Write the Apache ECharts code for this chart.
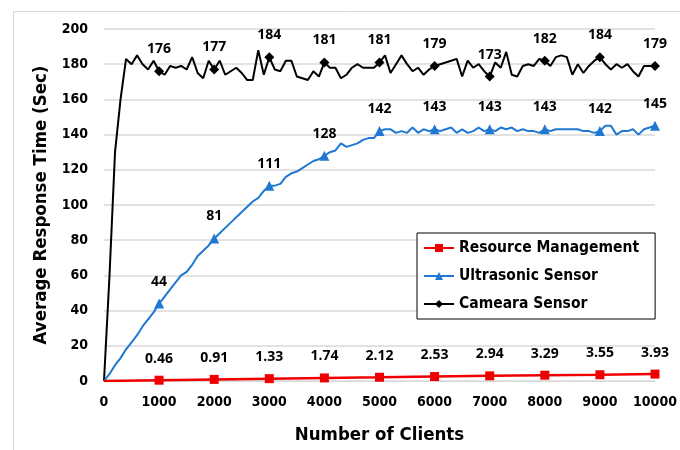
<!DOCTYPE html>
<html><head><meta charset="utf-8">
<script src="https://cdn.jsdelivr.net/npm/echarts@6/dist/echarts.min.js"></script>
<style>html,body{margin:0;padding:0;background:#fff}#c{width:680px;height:450px}</style>
</head><body><div id="c"></div>
<script>
// Number of clients sampled every 100 for sensor series
const sampleStep = 100;
const markerEvery = 1000;
const cameraTimes = [0,60,130,160,183,180,185,180,177,182,
176,174,179,178,179,177,184,175,172,182,
177,182,174,176,178,175,171,171,188,174,
184,177,176,182,182,173,172,171,176,173,
181,178,178,172,174,178,180,178,178,178,
181,185,175,180,185,180,176,178,174,177,
179,180,181,182,183,173,182,178,180,176,
173,181,178,187,174,173,179,180,179,183,
182,179,184,185,184,174,180,175,179,182,
184,180,177,180,178,180,176,173,179,179,
179];
const ultrasonicTimes = [0,4,9,13,18,22,26,31,35,39,
44,48,52,56,60,62,66,71,74,77,
81,84,87,90,93,96,99,102,104,108,
111,111,112,116,118,119,121,123,125,126,
128,130,131,135,133,134,135,137,138,138,
142,143,143,141,142,141,144,141,143,142,
143,142,143,144,141,143,141,142,144,142,
143,142,144,143,144,142,143,142,142,141,
143,142,143,143,143,143,143,142,142,141,
142,145,145,140,142,142,143,140,143,144,
145];
const resourceClients = [0,1000,2000,3000,4000,5000,6000,7000,8000,9000,10000];
const resourceTimes = [0,0.46,0.91,1.33,1.74,2.12,2.53,2.94,3.29,3.55,3.93];
const xTicks = [0,1000,2000,3000,4000,5000,6000,7000,8000,9000,10000];
const yTicks = [0,20,40,60,80,100,120,140,160,180,200];

const FONT = "'Open Sans','Noto Sans',sans-serif";
const CFONT = "'DejaVu Sans Condensed','Open Sans',sans-serif";
const lbl = {show:true, position:'top', distance:10, color:'#000', fontWeight:'bold', fontSize:14, fontFamily:FONT,
  formatter: p => String(p.value[1])};

function sensorData(vals){
  return vals.map((v,i)=>{
    const x = i*sampleStep;
    if (x>0 && x % markerEvery === 0) return {value:[x,v], label:lbl};
    return {value:[x,v], symbol:'none'};
  });
}
const resData = resourceTimes.map((v,i)=>{
  const x = resourceClients[i];
  if (x>0) return {value:[x,v], label:lbl};
  return {value:[x,v], symbol:'none'};
});

const chart = echarts.init(document.getElementById('c'), null, {renderer:'canvas'});
chart.setOption({
  animation:false,
  backgroundColor:'#fff',
  textStyle:{fontFamily:FONT},
  graphic:[
    {type:'line', shape:{x1:13.5,y1:11.5,x2:13.5,y2:460}, style:{stroke:'#d9d9d9',lineWidth:1}},
    {type:'line', shape:{x1:13.5,y1:11.5,x2:690,y2:11.5}, style:{stroke:'#d9d9d9',lineWidth:1}}
  ],
  grid:{left:104, right:25, top:29, bottom:68},
  legend:{
    orient:'vertical', left:417, top:233,
    backgroundColor:'#fff',
    borderColor:'#000', borderWidth:1,
    padding:[6,16,6,6],
    itemWidth:30, itemHeight:10, itemGap:10,
    textStyle:{fontSize:15.5, fontWeight:'bold', color:'#000', fontFamily:CFONT, lineHeight:18},
    data:['Resource Management','Ultrasonic Sensor','Cameara Sensor']
  },
  xAxis:{
    type:'value', min:0, max:10000, interval:1000,
    name:'Number of Clients', nameLocation:'middle', nameGap:45,
    nameTextStyle:{fontSize:18.5, fontWeight:'bold', color:'#000', fontFamily:CFONT},
    axisLine:{show:true, lineStyle:{color:'#d9d9d9'}},
    axisTick:{show:false},
    splitLine:{show:false},
    axisLabel:{fontSize:14, fontWeight:'bold', color:'#000', margin:14, fontFamily:CFONT,
      customValues: xTicks, formatter: v => String(v)}
  },
  yAxis:{
    type:'value', min:0, max:200, interval:20,
    name:'Average Response Time (Sec)', nameLocation:'middle', nameGap:52, nameRotate:90,
    nameTextStyle:{fontSize:18.5, fontWeight:'bold', color:'#000', fontFamily:CFONT},
    axisLine:{show:false}, axisTick:{show:false},
    splitLine:{show:true, lineStyle:{color:'#d9d9d9', width:1.5}},
    axisLabel:{fontSize:14, fontWeight:'bold', color:'#000', margin:16, fontFamily:CFONT,
      customValues: yTicks, formatter: v => String(v)}
  },
  series:[
    {name:'Cameara Sensor', type:'line', data:sensorData(cameraTimes),
      symbol:'diamond', symbolSize:10, showSymbol:true, showAllSymbol:true,
      lineStyle:{color:'#000', width:2}, itemStyle:{color:'#000'}, color:'#000', z:3},
    {name:'Ultrasonic Sensor', type:'line', data:sensorData(ultrasonicTimes),
      symbol:'triangle', symbolSize:10, showSymbol:true, showAllSymbol:true,
      lineStyle:{color:'#1f78d1', width:2}, itemStyle:{color:'#1f78d1'}, color:'#1f78d1', z:4},
    {name:'Resource Management', type:'line', data:resData,
      symbol:'rect', symbolSize:9, showSymbol:true, showAllSymbol:true,
      lineStyle:{color:'#ee0000', width:2.5}, itemStyle:{color:'#ee0000'}, color:'#ee0000', z:5}
  ]
});
</script></body></html>
